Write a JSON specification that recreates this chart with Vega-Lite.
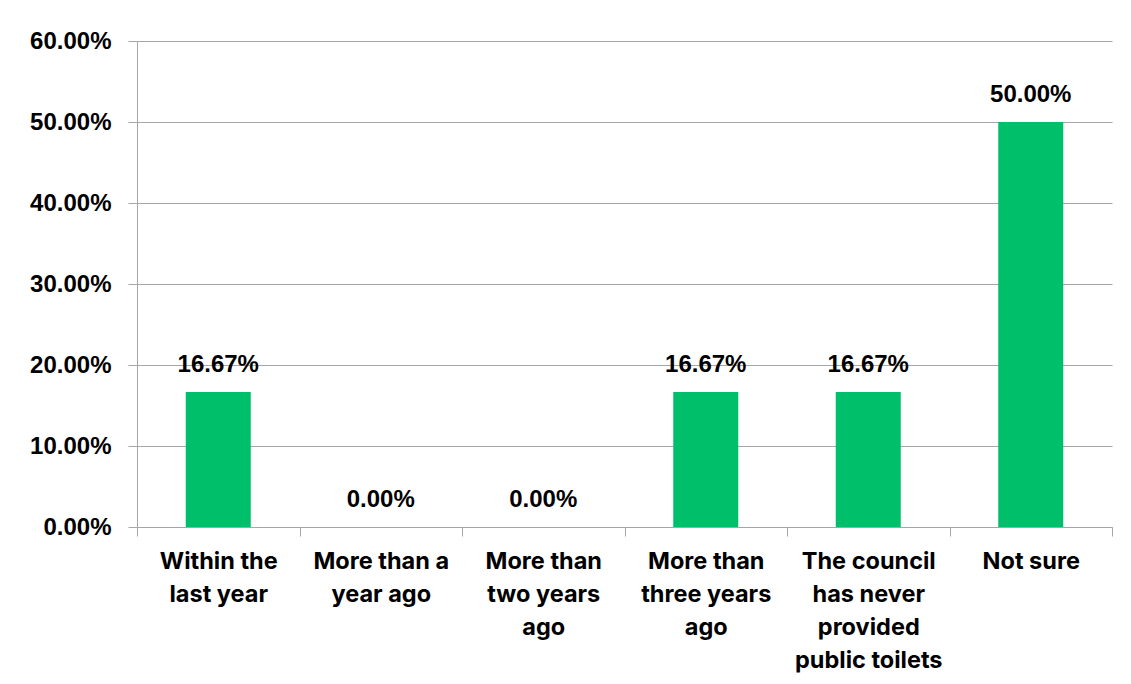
{
  "$schema": "https://vega.github.io/schema/vega-lite/v6.json",
  "width": 975,
  "height": 486,
  "autosize": "none",
  "padding": {"left": 137, "top": 41, "right": 19, "bottom": 157},
  "background": "white",
  "config": {"view": {"stroke": null}},
  "data": {
    "values": [
      {"category": "Within the|last year", "value": 0.1667},
      {"category": "More than a|year ago", "value": 0.0},
      {"category": "More than|two years|ago", "value": 0.0},
      {"category": "More than|three years|ago", "value": 0.1667},
      {"category": "The council|has never|provided|public toilets", "value": 0.1667},
      {"category": "Not sure", "value": 0.5}
    ]
  },
  "encoding": {
    "x": {
      "field": "category",
      "type": "nominal",
      "sort": null,
      "title": null,
      "scale": {"paddingInner": 0, "paddingOuter": 0},
      "axis": {
        "labelExpr": "isValid(datum.value) ? split(datum.value, '|') : ''",
        "labelAngle": 0,
        "labelFont": "Inter",
        "labelFontWeight": "bold",
        "labelFontSize": 23.5,
        "labelLineHeight": 33,
        "labelColor": "#000000",
        "labelPadding": 13,
        "labelBaseline": "top",
        "ticks": true,
        "tickBand": "extent",
        "tickSize": 9,
        "tickWidth": 1,
        "tickColor": "#A6A6A6",
        "domainColor": "#A6A6A6",
        "domainWidth": 1,
        "labelLimit": 300
      }
    },
    "y": {
      "field": "value",
      "type": "quantitative",
      "title": null,
      "scale": {"domain": [0, 0.6], "nice": false},
      "axis": {
        "values": [0, 0.1, 0.2, 0.3, 0.4, 0.5, 0.6],
        "format": ".2%",
        "labelFont": "Liberation Sans",
        "labelFontWeight": "bold",
        "labelFontSize": 24,
        "labelColor": "#000000",
        "labelPadding": 17,
        "ticks": true,
        "tickSize": 9,
        "tickColor": "#A6A6A6",
        "domainColor": "#A6A6A6",
        "gridColor": "#A6A6A6",
        "grid": true
      }
    }
  },
  "layer": [
    {
      "mark": {"type": "bar", "color": "#00BF6A", "width": {"band": 0.4}}
    },
    {
      "mark": {
        "type": "text",
        "font": "Liberation Sans",
        "fontWeight": "bold",
        "fontSize": 24,
        "color": "#000000",
        "baseline": "alphabetic",
        "dy": -20
      },
      "encoding": {
        "text": {"field": "value", "type": "quantitative", "format": ".2%"}
      }
    }
  ]
}
